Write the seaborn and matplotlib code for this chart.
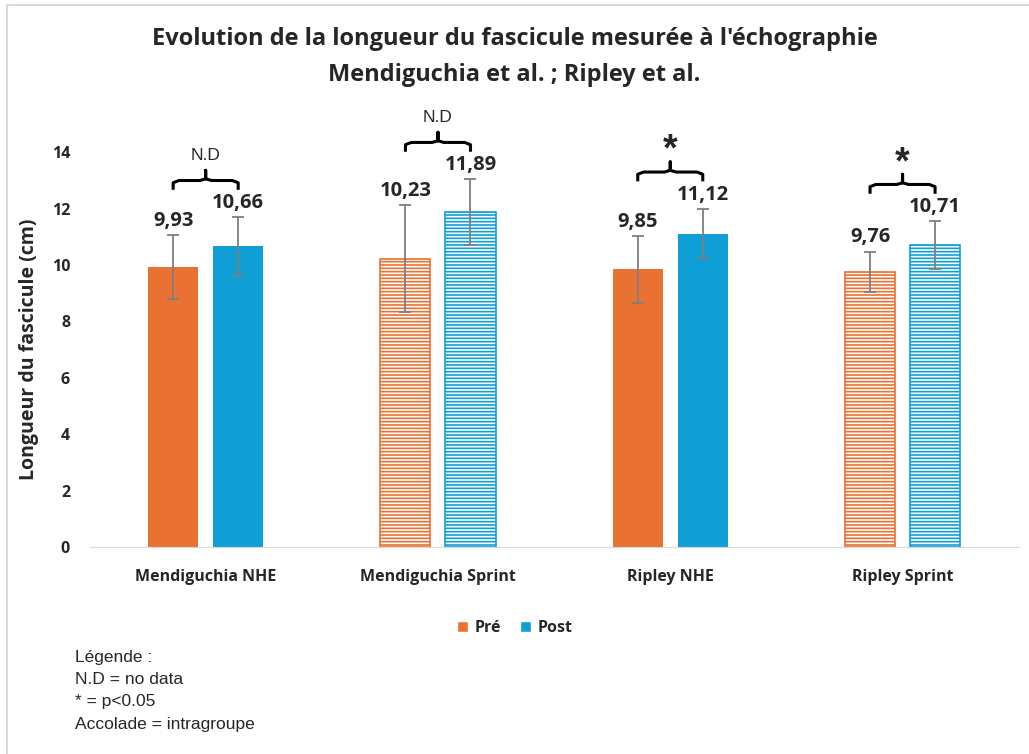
import numpy as np
import pandas as pd
import matplotlib
matplotlib.use("Agg")
import matplotlib.pyplot as plt
import seaborn as sns
from matplotlib.patches import Patch
from matplotlib.lines import Line2D

# Données
groupes = ["Mendiguchia NHE", "Mendiguchia Sprint", "Ripley NHE", "Ripley Sprint"]
temps = ["Pré", "Post"]
moy_pre = [9.93, 10.23, 9.85, 9.76]
moy_post = [10.66, 11.89, 11.12, 10.71]
et_pre = [1.12, 1.90, 1.18, 0.72]
et_post = [1.04, 1.16, 0.88, 0.85]
signif = ["N.D", "N.D", "*", "*"]
sprint = [False, True, False, True]

orange = "#E97132"
bleu = "#0F9ED5"

df = pd.DataFrame({
    "Groupe": groupes * 2,
    "Temps": ["Pré"] * 4 + ["Post"] * 4,
    "Longueur": moy_pre + moy_post,
})

sns.set_style("white")
plt.rcParams["font.family"] = ["Open Sans", "DejaVu Sans"]
plt.rcParams["hatch.linewidth"] = 1.2

fig = plt.figure(figsize=(10.29, 7.54), dpi=100)
ax = fig.add_axes([0.087, 0.2745, 0.903, 0.5235])

sns.barplot(data=df, x="Groupe", y="Longueur", hue="Temps", hue_order=temps,
            order=groupes, palette=[orange, bleu], width=0.56, gap=0.23,
            errorbar=None, legend=False, ax=ax, saturation=1)

moyennes = [moy_pre, moy_post]
ecarts = [et_pre, et_post]
couleurs = [orange, bleu]
centres = [[], []]
conteneurs = list(ax.containers)
for h, cont in enumerate(conteneurs):
    for i, bar in enumerate(cont):
        cx = bar.get_x() + bar.get_width() / 2
        centres[h].append(cx)
        if sprint[i]:
            bar.set_facecolor("white")
            bar.set_edgecolor(couleurs[h])
            bar.set_hatch("-----")
            bar.set_linewidth(1.2)
        else:
            bar.set_edgecolor("none")
        m, s = moyennes[h][i], ecarts[h][i]
        ax.errorbar(cx, m, yerr=s, fmt="none", ecolor="#7f7f7f",
                    elinewidth=1.3, capsize=4, capthick=1.3, zorder=3)
        ax.annotate(f"{m:.2f}".replace(".", ","), (cx, m + s),
                    xytext=(0, 3), textcoords="offset points",
                    ha="center", va="bottom", fontsize=14.5, fontweight="bold")

# accolades intragroupe
for i in range(4):
    x0, x1 = centres[0][i], centres[1][i]
    xm = (x0 + x1) / 2
    yb = max(moy_pre[i] + et_pre[i], moy_post[i] + et_post[i]) + 1.3
    r = 0.025
    xs = [x0, x0, x0 + r, xm - r, xm, xm, xm, xm + r, x1 - r, x1, x1]
    ys = [yb - 0.33, yb - 0.08, yb, yb, yb + 0.06, yb + 0.36, yb + 0.06, yb, yb, yb - 0.08, yb - 0.33]
    ax.plot(xs, ys, color="black", lw=2.2, clip_on=False, solid_joinstyle="round",
            solid_capstyle="butt")
    if signif[i] == "*":
        ax.text(xm, yb + 0.75, "*", ha="center", va="center", fontsize=27,
                fontweight="bold", clip_on=False, family=["Liberation Sans"])
    else:
        ax.text(xm, yb + 0.9, signif[i], ha="center", va="center", fontsize=12.5,
                clip_on=False, family=["Liberation Sans"])

ax.set_ylim(0, 14)
ax.set_xlim(-0.5, 3.5)
ax.set_yticks(range(0, 15, 2))
ax.set_xlabel("")
ax.set_ylabel("Longueur du fascicule (cm)", fontsize=14, fontweight="bold", labelpad=9)
ax.tick_params(axis="y", length=0, pad=14, labelsize=11.5)
ax.tick_params(axis="x", length=0, pad=16, labelsize=11.5)
for lab in ax.get_xticklabels() + ax.get_yticklabels():
    lab.set_fontweight("bold")
for sp in ["left", "top", "right"]:
    ax.spines[sp].set_visible(False)
ax.spines["bottom"].set_color("#d9d9d9")

fig.text(0.5, 0.948, "Evolution de la longueur du fascicule mesurée à l'échographie",
         ha="center", va="center", fontsize=17, fontweight="bold")
fig.text(0.5, 0.9, "Mendiguchia et al. ; Ripley et al.",
         ha="center", va="center", fontsize=17, fontweight="bold")

handles = [Patch(facecolor=orange, label="Pré"), Patch(facecolor=bleu, label="Post")]
fig.legend(handles=handles, loc="center", bbox_to_anchor=(0.5, 0.167), ncol=2,
           frameon=False, handlelength=0.7, handleheight=0.7, handletextpad=0.4,
           columnspacing=1.2, prop={"weight": "bold", "size": 11.5})

fig.text(0.073, 0.084, "Légende :\nN.D = no data\n* = p<0.05\nAccolade = intragroupe",
         ha="left", va="center", fontsize=12.5, linespacing=1.62,
         family=["Liberation Sans", "DejaVu Sans"])

# bordure du cadre (haut et gauche visibles)
fig.add_artist(Line2D([0.0068, 1], [0.9934, 0.9934], transform=fig.transFigure,
                      color="#d9d9d9", lw=1.5))
fig.add_artist(Line2D([0.0068, 0.0068], [0, 0.9934], transform=fig.transFigure,
                      color="#d9d9d9", lw=1.5))

fig.savefig("out.png", dpi=100, facecolor="white")
